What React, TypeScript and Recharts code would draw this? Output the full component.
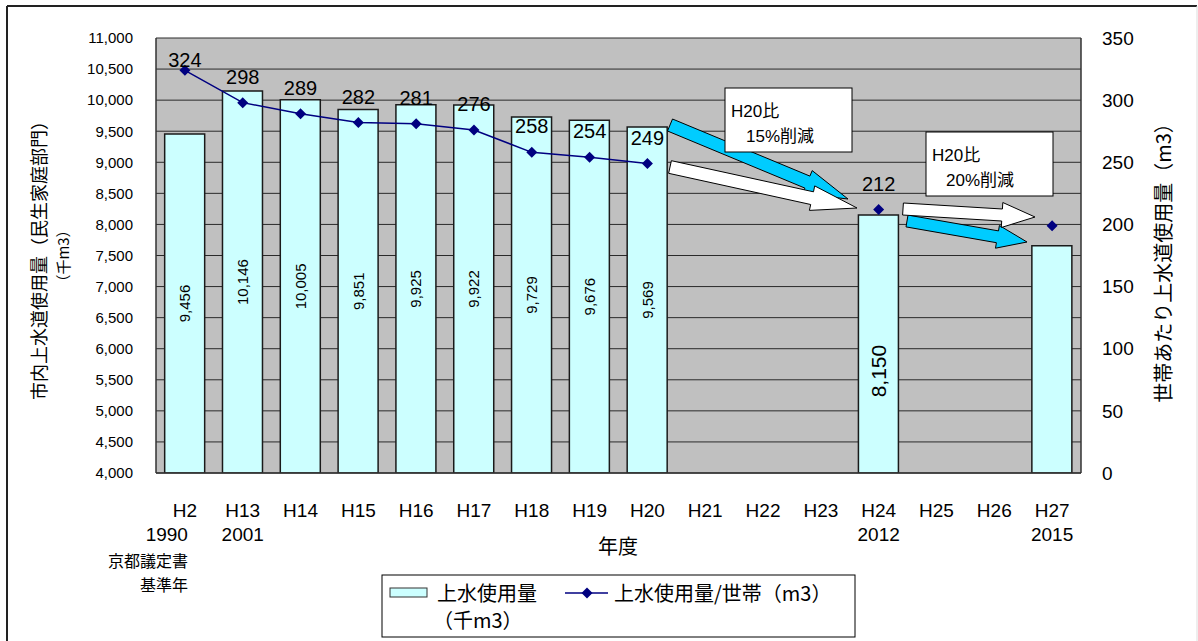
import React from 'react'
import { ComposedChart, Bar, Line, XAxis, YAxis, CartesianGrid, LabelList } from 'recharts'

// 年度 (category axis)
const years = ['H2', 'H13', 'H14', 'H15', 'H16', 'H17', 'H18', 'H19', 'H20', 'H21', 'H22', 'H23', 'H24', 'H25', 'H26', 'H27']
const yearSubLabels = [
  ['1990', '京都議定書', '基準年'], ['2001'], [], [], [], [], [], [], [], [], [], [], ['2012'], [], [], ['2015'],
]

// 上水使用量 (千m3)
const waterUse = [9456, 10146, 10005, 9851, 9925, 9922, 9729, 9676, 9569, null, null, null, 8150, null, null, 7655]
const waterUseLabeled = [true, true, true, true, true, true, true, true, true, false, false, false, true, false, false, false]

// 上水使用量/世帯 (m3)
const perHousehold = [324, 298, 289, 282, 281, 276, 258, 254, 249, null, null, null, 212, null, null, 199]
const perHouseholdLabeled = [true, true, true, true, true, true, true, true, true, false, false, false, true, false, false, false]

const leftTicks = [4000, 4500, 5000, 5500, 6000, 6500, 7000, 7500, 8000, 8500, 9000, 9500, 10000, 10500, 11000]
const rightTicks = [0, 50, 100, 150, 200, 250, 300, 350]

const targetYear = 'H24'

const data = years.map((year, i) => ({
  year,
  use: waterUse[i],
  useLabel: waterUseLabeled[i] && year !== targetYear ? waterUse[i] : null,
  useTargetLabel: waterUseLabeled[i] && year === targetYear ? waterUse[i] : null,
  perHousehold: perHousehold[i],
  perHouseholdLabel: perHouseholdLabeled[i] ? perHousehold[i] : null,
}))

const W = 1198
const H = 641
const PLOT_TOP = 38
const latin = "'Liberation Sans', 'Noto Sans CJK JP', sans-serif"
const jp = "'Noto Sans CJK JP', 'Liberation Sans', sans-serif"

function arrowPoints(x1: number, y1: number, x2: number, y2: number, shaft: number, head: number, headLen: number) {
  const dx = x2 - x1
  const dy = y2 - y1
  const len = Math.sqrt(dx * dx + dy * dy)
  const ux = dx / len
  const uy = dy / len
  const nx = -uy
  const ny = ux
  const bx = x2 - ux * headLen
  const by = y2 - uy * headLen
  const pts = [
    [x1 + nx * shaft / 2, y1 + ny * shaft / 2],
    [bx + nx * shaft / 2, by + ny * shaft / 2],
    [bx + nx * head / 2, by + ny * head / 2],
    [x2, y2],
    [bx - nx * head / 2, by - ny * head / 2],
    [bx - nx * shaft / 2, by - ny * shaft / 2],
    [x1 - nx * shaft / 2, y1 - ny * shaft / 2],
  ]
  return pts.map(p => p[0].toFixed(1) + ',' + p[1].toFixed(1)).join(' ')
}

const YearTick = (props: any) => {
  const { x, y, payload } = props
  const i = years.indexOf(payload.value)
  const subs = yearSubLabels[i] || []
  const rightAligned = subs.length > 1
  const offsets = [68, 94, 118]
  return (
    <g>
      <text x={x} y={y + 44} textAnchor="middle" fontSize={19} fontFamily={latin} fill="#000">
        {payload.value}
      </text>
      {subs.map((s, k) => (
        <text
          key={s}
          x={rightAligned ? x + 3 : x}
          y={y + offsets[k]}
          textAnchor={rightAligned ? 'end' : 'middle'}
          fontSize={k === 0 ? 19 : 16}
          fontFamily={k === 0 ? latin : jp}
          fill="#000"
        >
          {s}
        </text>
      ))}
    </g>
  )
}

const makeBarLabel = (big: boolean) => (props: any) => {
  const { x, y, width, height, value } = props
  if (value == null) return null
  const cx = x + width / 2
  const cy = y + height / 2 + (big ? 27 : 0)
  return (
    <text
      x={cx}
      y={cy}
      transform={`rotate(-90 ${cx} ${cy})`}
      textAnchor="middle"
      dominantBaseline="central"
      fontSize={big ? 21 : 15}
      fontFamily={latin}
      fill="#000"
    >
      {Number(value).toLocaleString('en-US')}
    </text>
  )
}
const BarValueLabel = makeBarLabel(false)
const BarTargetLabel = makeBarLabel(true)

const PointLabel = (props: any) => {
  const { x, y, value } = props
  if (value == null) return null
  const by = Math.max(y - 19, PLOT_TOP + 29)
  return (
    <text x={x} y={by} textAnchor="middle" fontSize={20} fontFamily={latin} fill="#000">
      {value}
    </text>
  )
}

const Diamond = (props: any) => {
  const { cx, cy, index } = props
  if (cx == null || cy == null) return <g key={`d-${index}`} />
  const r = 5.5
  return (
    <polygon
      key={`d-${index}`}
      points={`${cx},${cy - r} ${cx + r},${cy} ${cx},${cy + r} ${cx - r},${cy}`}
      fill="#000080"
    />
  )
}

function Annotations() {
  return (
    <svg width={W} height={H} style={{ position: 'absolute', left: 0, top: 0, pointerEvents: 'none' }}>
      {/* outer frame */}
      <line x1={7} y1={6} x2={1197} y2={6} stroke="#222" strokeWidth={2} />
      <line x1={7} y1={6} x2={7} y2={H} stroke="#222" strokeWidth={2} />
      <line x1={1197} y1={6} x2={1197} y2={H} stroke="#ddd" strokeWidth={1} />

      {/* axis titles */}
      <text x={38} y={256} transform="rotate(-90 38 256)" textAnchor="middle" dominantBaseline="central" fontSize={18} fontFamily={jp} fill="#000">
        市内上水道使用量（民生家庭部門）
      </text>
      <text x={62} y={256} transform="rotate(-90 62 256)" textAnchor="middle" dominantBaseline="central" fontSize={15} fontFamily={jp} fill="#000">
        （千m3）
      </text>
      <text x={1162} y={258} transform="rotate(-90 1162 258)" textAnchor="middle" dominantBaseline="central" fontSize={20} fontFamily={jp} fill="#000">
        世帯あたり上水道使用量（m3）
      </text>
      <text x={618} y={554} textAnchor="middle" fontSize={20} fontFamily={jp} fill="#000">年度</text>

      {/* arrows */}
      <polygon points={arrowPoints(670, 125, 848, 199, 13, 25, 44)} fill="#00CCFF" stroke="#000" strokeWidth={1} />
      <polygon points={arrowPoints(670, 167, 857, 208, 13, 25, 46)} fill="#fff" stroke="#000" strokeWidth={1} />
      <polygon points={arrowPoints(907, 221, 1027, 242, 12, 23, 30)} fill="#00CCFF" stroke="#000" strokeWidth={1} />
      <polygon points={arrowPoints(903, 209, 1035, 217, 12, 25, 33)} fill="#fff" stroke="#000" strokeWidth={1} />

      {/* text boxes */}
      <rect x={725} y={88} width={127} height={64} fill="#fff" stroke="#000" strokeWidth={1} />
      <text x={731} y={117} fontSize={17} fontFamily={latin} fill="#000">H20比</text>
      <text x={746} y={142} fontSize={17} fontFamily={latin} fill="#000">15%削減</text>
      <rect x={926} y={132} width={127} height={64} fill="#fff" stroke="#000" strokeWidth={1} />
      <text x={932} y={161} fontSize={17} fontFamily={latin} fill="#000">H20比</text>
      <text x={946} y={186} fontSize={17} fontFamily={latin} fill="#000">20%削減</text>

      {/* legend */}
      <rect x={382} y={575} width={473} height={62} fill="#fff" stroke="#000" strokeWidth={1} />
      <rect x={390} y={588} width={37} height={9} fill="#CCFFFF" stroke="#333" strokeWidth={1} />
      <text x={437} y={601} fontSize={20} fontFamily={jp} fill="#000">上水使用量</text>
      <text x={433} y={628} fontSize={20} fontFamily={jp} fill="#000">（千m3）</text>
      <line x1={565} y1={593} x2={608} y2={593} stroke="#000080" strokeWidth={1.5} />
      <polygon points="587,587.5 592.5,593 587,598.5 581.5,593" fill="#000080" />
      <text x={614} y={601} fontSize={20} fontFamily={jp} fill="#000">上水使用量/世帯（m3）</text>
    </svg>
  )
}

export default function App() {
  return (
    <div style={{ position: 'absolute', left: 0, top: 0, width: W, height: H, background: '#fff' }}>
      <ComposedChart
        width={W}
        height={H}
        data={data}
        margin={{ top: PLOT_TOP, left: 76, right: 37, bottom: 108 }}
        barCategoryGap="15%"
      >
        <CartesianGrid yAxisId="left" vertical={false} stroke="#2a2a2a" fill="#C0C0C0" fillOpacity={1} />
        <XAxis
          dataKey="year"
          height={60}
          tick={<YearTick />}
          tickLine={false}
          tickSize={0}
          tickMargin={0}
          interval={0}
          axisLine={{ stroke: '#333', strokeWidth: 1.5 }}
        />
        <YAxis
          yAxisId="left"
          orientation="left"
          width={80}
          domain={[4000, 11000]}
          ticks={leftTicks}
          allowDataOverflow
          tickFormatter={(v: number) => v.toLocaleString('en-US')}
          tick={{ fontSize: 15, fill: '#000', fontFamily: latin }}
          tickLine={false}
          tickSize={6}
          tickMargin={17}
          axisLine={{ stroke: '#333', strokeWidth: 1.5 }}
        />
        <YAxis
          yAxisId="right"
          orientation="right"
          width={80}
          domain={[0, 350]}
          ticks={rightTicks}
          allowDataOverflow
          tick={{ fontSize: 19, fill: '#000', fontFamily: latin }}
          tickLine={false}
          tickSize={6}
          tickMargin={15}
          axisLine={{ stroke: '#333', strokeWidth: 1.5 }}
        />
        <Bar yAxisId="left" dataKey="use" fill="#CCFFFF" stroke="#1a1a1a" strokeWidth={1.5} isAnimationActive={false}>
          <LabelList dataKey="useLabel" content={BarValueLabel} />
          <LabelList dataKey="useTargetLabel" content={BarTargetLabel} />
        </Bar>
        <Line
          yAxisId="right"
          dataKey="perHousehold"
          stroke="#000080"
          strokeWidth={1.5}
          connectNulls={false}
          dot={Diamond}
          activeDot={false}
          isAnimationActive={false}
        >
          <LabelList dataKey="perHouseholdLabel" content={PointLabel} />
        </Line>
      </ComposedChart>
      <Annotations />
    </div>
  )
}
